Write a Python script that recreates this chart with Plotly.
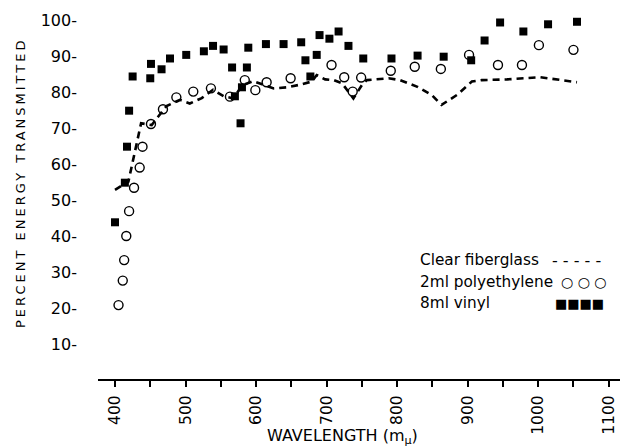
import plotly.graph_objects as go

# Clear fiberglass (dashed curve)
fiber_wl = [400, 419, 437, 452, 473, 492, 506, 523, 539, 554, 568, 580, 596, 625, 644, 662,
            679, 686, 698, 710, 722, 738, 750, 757, 788, 804, 828, 849, 863, 885, 906, 920,
            956, 1003, 1055]
fiber_pct = [53, 55.3, 71.5, 71, 76.3, 78, 77, 78.5, 80.8, 79, 78.4, 82, 83.2, 81.2, 81.5, 82.2,
             83.1, 84.9, 83.7, 83.5, 82.6, 78.4, 82.1, 83.5, 84, 83.5, 81.7, 79.4, 76.6, 79.4, 83.1, 83.5,
             83.7, 84.3, 82.9]

# 2ml polyethylene (open circles)
poly_wl = [405, 411, 413, 416, 420, 427, 435, 439, 451, 468, 487, 511, 536, 563, 584, 599,
           615, 649, 707, 725, 737, 749, 791, 825, 862, 902, 943, 977, 1001, 1050]
poly_pct = [21, 27.8, 33.5, 40.2, 47.1, 53.6, 59.2, 65, 71.3, 75.4, 78.7, 80.3, 81.2, 78.9, 83.5, 80.7,
            82.9, 84, 87.7, 84.3, 80.3, 84.2, 86.1, 87.2, 86.6, 90.5, 87.7, 87.7, 93.2, 91.9]

# 8ml vinyl (filled squares)
vinyl_wl = [400, 414, 417, 420, 425, 450, 451, 466, 478, 501, 526, 539, 554, 566, 570, 578,
            580, 587, 589, 614, 639, 664, 670, 677, 686, 690, 704, 717, 731, 752, 792, 829,
            866, 905, 924, 946, 979, 1014, 1055]
vinyl_pct = [44, 55, 65, 75, 84.5, 84, 88, 86.5, 89.5, 90.5, 91.5, 93, 92, 87, 79, 71.5,
             81.5, 87, 92.5, 93.5, 93.5, 94, 89, 84.5, 90.5, 96, 95, 97, 93, 89.5, 89.5, 90.3,
             90, 89, 94.5, 99.5, 97, 99, 99.7]

y_ticks = [10, 20, 30, 40, 50, 60, 70, 80, 90, 100]
y_ticktext = [f"{v}-" for v in y_ticks]
x_ticks = [400, 500, 600, 700, 800, 900, 1000, 1100]

legend_labels = ["Clear fiberglass", "2ml polyethylene", "8ml vinyl"]
legend_symbols = ["- - - - -", "○ ○ ○", "■■■■"]

FONT = "DejaVu Sans"

fig = go.Figure()
fig.add_trace(go.Scatter(x=fiber_wl, y=fiber_pct, mode="lines",
                         line=dict(color="black", width=2.6, dash="7px,5px"),
                         showlegend=False))
fig.add_trace(go.Scatter(x=poly_wl, y=poly_pct, mode="markers",
                         marker=dict(symbol="circle-open", size=9, color="black",
                                     line=dict(width=1.4, color="black")),
                         showlegend=False))
fig.add_trace(go.Scatter(x=vinyl_wl, y=vinyl_pct, mode="markers",
                         marker=dict(symbol="square", size=8, color="black"),
                         showlegend=False))

fig.update_layout(
    width=620, height=446,
    margin=dict(l=98, r=0, t=10, b=67, autoexpand=False),
    paper_bgcolor="white", plot_bgcolor="white",
    font=dict(family=FONT, color="black", size=16),
    showlegend=False,
)
fig.update_xaxes(range=[375.9, 1116], showgrid=False, zeroline=False,
                 showline=True, linecolor="black", linewidth=2.2,
                 tickvals=x_ticks, ticks="outside", ticklen=6, tickwidth=1.5,
                 tickcolor="black", tickangle=-90, tickfont=dict(size=15.5),
                 ticklabelstandoff=2, automargin=False,
                 minor=dict(dtick=50, tick0=400, ticks="outside", ticklen=6,
                            tickwidth=1.5, tickcolor="black", showgrid=False))
fig.update_yaxes(range=[0.47, 102.97], showgrid=False, zeroline=False,
                 showline=False, tickvals=y_ticks, ticktext=y_ticktext,
                 ticks="", tickfont=dict(size=16), ticklabelstandoff=20,
                 automargin=False)

def px_x(px):
    return (px - 98) / 522

def px_y(py):
    return (379 - py) / 369

fig.add_annotation(text="WAVELENGTH (m<sub>μ</sub>)", xref="paper", yref="paper",
                   x=px_x(342), y=px_y(436), showarrow=False,
                   font=dict(size=16), xanchor="center", yanchor="middle")
fig.add_annotation(text="PERCENT ENERGY TRANSMITTED", xref="paper", yref="paper",
                   x=px_x(20), y=px_y(183), showarrow=False, textangle=-90,
                   font=dict(size=13), xanchor="center", yanchor="middle")

rows = [260, 281.7, 303.3]
sym_centers = [576, 584, 579]
for lab, sym, ry, sc in zip(legend_labels, legend_symbols, rows, sym_centers):
    fig.add_annotation(text=lab, xref="paper", yref="paper", x=px_x(418), y=px_y(ry),
                       showarrow=False, xanchor="left", yanchor="middle",
                       font=dict(size=15.3))
    fig.add_annotation(text=sym, xref="paper", yref="paper", x=px_x(sc), y=px_y(ry),
                       showarrow=False, xanchor="center", yanchor="middle",
                       font=dict(size=13 if sym == "■■■■" else (14 if sym == "○ ○ ○" else 16)))

fig.write_html("out.html", config={"displayModeBar": False})

# remove default page margins so the figure sits at the window's top-left corner
css = ("<style>body{margin:0;padding:0;}"
       "g.annotation[data-index='1'] text.annotation-text{letter-spacing:3px;}</style>")
with open("out.html", "r", encoding="utf-8") as f:
    html = f.read()
html = html.replace("<head>", "<head>" + css, 1)
with open("out.html", "w", encoding="utf-8") as f:
    f.write(html)
